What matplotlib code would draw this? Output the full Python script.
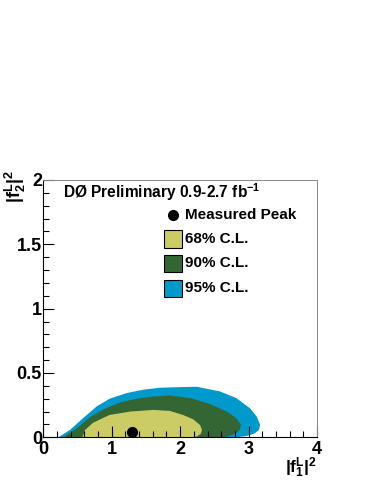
import matplotlib
matplotlib.use('Agg')
import matplotlib.pyplot as plt
from matplotlib.patches import Rectangle
from matplotlib.ticker import MultipleLocator

plt.rcParams['font.family'] = ['Liberation Sans', 'DejaVu Sans']
plt.rcParams['font.weight'] = 'bold'
plt.rcParams['mathtext.fontset'] = 'custom'
plt.rcParams['mathtext.rm'] = 'Liberation Sans:bold'
plt.rcParams['mathtext.bf'] = 'Liberation Sans:bold'
plt.rcParams['mathtext.it'] = 'Liberation Sans:bold'
plt.rcParams['mathtext.default'] = 'bf'

# contour outlines (|f1L|^2, |f2L|^2)
cl95_x = [0.22, 0.39, 0.58, 0.78, 0.97, 1.22, 1.46, 1.70, 2.00, 2.24, 2.58, 2.82,
          3.02, 3.12, 3.17, 3.15, 3.09, 2.97, 2.82]
cl95_y = [0.00, 0.057, 0.148, 0.24, 0.30, 0.344, 0.37, 0.385, 0.39, 0.393, 0.357, 0.305,
          0.226, 0.16, 0.096, 0.057, 0.03, 0.01, 0.00]
cl90_x = [0.29, 0.49, 0.68, 0.88, 1.12, 1.36, 1.61, 1.85, 2.14, 2.43, 2.68, 2.82,
          2.89, 2.87, 2.80, 2.68, 2.58]
cl90_y = [0.00, 0.07, 0.155, 0.218, 0.27, 0.30, 0.317, 0.325, 0.305, 0.26, 0.20, 0.148,
          0.096, 0.057, 0.026, 0.005, 0.00]
cl68_x = [0.57, 0.61, 0.73, 0.97, 1.27, 1.61, 1.85, 2.04, 2.19, 2.29, 2.32, 2.30, 2.24, 2.14]
cl68_y = [0.00, 0.057, 0.114, 0.174, 0.20, 0.213, 0.205, 0.174, 0.14, 0.096, 0.057, 0.026,
          0.005, 0.00]
peak_x = 1.30
peak_y = 0.04

labels = ['68% C.L.', '90% C.L.', '95% C.L.']
colors = ['#cccc66', '#336633', '#0099cc']

fig = plt.figure(figsize=(3.71, 4.80), dpi=100)
ax = fig.add_axes([43.3/371, 1-437.3/480, 273.7/371, 257.3/480])

ax.fill(cl95_x, cl95_y, color=colors[2], lw=0)
ax.fill(cl90_x, cl90_y, color=colors[1], lw=0)
ax.fill(cl68_x, cl68_y, color=colors[0], lw=0)
ax.plot(peak_x, peak_y, 'o', color='black', markersize=7)

ax.set_xlim(0, 4)
ax.set_ylim(0, 2)
ax.xaxis.set_major_locator(MultipleLocator(1))
ax.xaxis.set_minor_locator(MultipleLocator(0.2))
ax.yaxis.set_major_locator(MultipleLocator(0.5))
ax.yaxis.set_minor_locator(MultipleLocator(0.1))
ax.xaxis.set_major_formatter(plt.FuncFormatter(lambda v, p: '%g' % v))
ax.yaxis.set_major_formatter(plt.FuncFormatter(lambda v, p: '%g' % v))
ax.tick_params(which='both', direction='in', top=False, right=False, labelsize=13)
ax.tick_params(which='major', length=8, width=0.8)
ax.tick_params(which='minor', length=4, width=0.8)
ax.tick_params(axis='y', pad=1)
ax.tick_params(axis='x', pad=3)
for s in ['top', 'right']:
    ax.spines[s].set_color('#888888')
    ax.spines[s].set_linewidth(0.7)

ax.text(-0.103, 1.04, r'$|f^{L}_{2}|^{2}$', transform=ax.transAxes, rotation=90,
        ha='center', va='top', fontsize=13)
ax.text(1.0, -0.072, r'$|f^{L}_{1}|^{2}$', transform=ax.transAxes,
        ha='right', va='top', fontsize=12.5)

ax.text(0.072, 0.93, r'DØ Preliminary 0.9-2.7 fb$^{-1}$', transform=ax.transAxes,
        fontsize=11.2, fontweight='bold', va='baseline')

# legend drawn by hand
ax.plot(0.474, 0.864, 'o', color='black', markersize=7, transform=ax.transAxes, clip_on=False)
ax.text(0.518, 0.864, 'Measured Peak', transform=ax.transAxes, fontsize=11,
        fontweight='bold', va='center')
box_y = [0.736, 0.642, 0.545]
for lab, col, by in zip(labels, colors, box_y):
    ax.add_patch(Rectangle((0.441, by), 0.066, 0.068, transform=ax.transAxes,
                           facecolor=col, edgecolor='black', lw=0.8))
    ax.text(0.518, by + 0.034, lab, transform=ax.transAxes, fontsize=11,
            fontweight='bold', va='center')

fig.savefig('out.png', dpi=100)
